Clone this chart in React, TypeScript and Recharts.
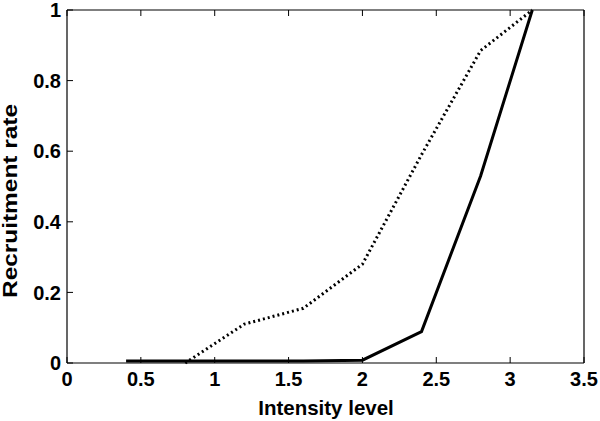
import React from "react";
import { LineChart, Line, XAxis, YAxis, Label } from "recharts";

const intensity = [0.4, 0.8, 1.2, 1.6, 2.0, 2.4, 2.8, 3.15];
const solidRate = [0.006, 0.006, 0.006, 0.006, 0.008, 0.089, 0.53, 1];
const dottedRate: (number | null)[] = [null, 0, 0.11, 0.155, 0.28, 0.59, 0.885, 1];

const xTicks = [0, 0.5, 1, 1.5, 2, 2.5, 3, 3.5];
const yTicks = [0, 0.2, 0.4, 0.6, 0.8, 1];

const data = intensity.map((x, i) => ({ x, solid: solidRate[i], dotted: dottedRate[i] }));

const FONT = "'Liberation Sans', Arial, sans-serif";
const tickStyle = { fill: "#000", fontSize: 20, fontWeight: 700, fontFamily: FONT };
const noTick = () => <g />;

export default function App() {
  return (
    <div style={{ position: "absolute", left: 0, top: 0, width: 600, height: 421, background: "#fff" }}>
      <LineChart width={600} height={421} data={data} margin={{ top: 0, right: 0, bottom: 0, left: 0 }}>
        <XAxis
          dataKey="x"
          type="number"
          domain={[0, 3.5]}
          ticks={xTicks}
          height={58}
          tickSize={-6}
          tickMargin={15}
          tick={tickStyle}
          axisLine={{ stroke: "#000", strokeWidth: 1.2 }}
          tickLine={{ stroke: "#000" }}
          interval={0}
        >
          <Label
            content={() => (
              <text x={326} y={415} textAnchor="middle" fontFamily={FONT} fontWeight={700} fontSize={20.5} fill="#000">
                Intensity level
              </text>
            )}
          />
        </XAxis>
        <XAxis
          xAxisId="t"
          orientation="top"
          dataKey="x"
          type="number"
          domain={[0, 3.5]}
          ticks={xTicks}
          height={10}
          tickSize={-6}
          tick={noTick}
          axisLine={{ stroke: "#000", strokeWidth: 1.2 }}
          tickLine={{ stroke: "#000" }}
          interval={0}
        />
        <YAxis
          type="number"
          domain={[0, 1]}
          ticks={yTicks}
          width={67}
          tickSize={-6}
          tickMargin={12}
          tick={tickStyle}
          axisLine={{ stroke: "#000", strokeWidth: 1.2 }}
          tickLine={{ stroke: "#000" }}
          interval={0}
        >
          <Label
            content={() => (
              <text
                x={17}
                y={201}
                transform="rotate(-90 17 201)"
                textAnchor="middle"
                fontFamily={FONT}
                fontWeight={700}
                fontSize={20}
                textLength={194}
                lengthAdjust="spacingAndGlyphs"
                fill="#000"
              >
                Recruitment rate
              </text>
            )}
          />
        </YAxis>
        <YAxis
          yAxisId="r"
          orientation="right"
          type="number"
          domain={[0, 1]}
          ticks={yTicks}
          width={16}
          tickSize={-6}
          tick={noTick}
          axisLine={{ stroke: "#000", strokeWidth: 1.2 }}
          tickLine={{ stroke: "#000" }}
          interval={0}
        />
        <Line
          dataKey="dotted"
          stroke="#000"
          strokeWidth={3}
          strokeDasharray="2 3"
          dot={false}
          isAnimationActive={false}
        />
        <Line dataKey="solid" stroke="#000" strokeWidth={3} dot={false} isAnimationActive={false} />
      </LineChart>
    </div>
  );
}
